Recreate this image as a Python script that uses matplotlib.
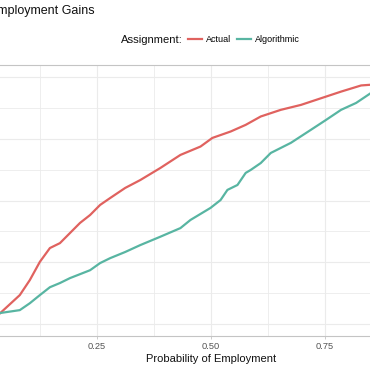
import matplotlib
matplotlib.use("Agg")
import matplotlib.pyplot as plt
from matplotlib.ticker import MultipleLocator

plt.rcParams["font.family"] = ["Liberation Sans", "DejaVu Sans"]

# Cumulative curves (probability of employment -> share of gains)
actual_x = [0.0, 0.037, 0.081, 0.103, 0.125, 0.147, 0.169, 0.191, 0.213, 0.235,
            0.257, 0.279, 0.312, 0.345, 0.389, 0.433, 0.477, 0.503, 0.543, 0.576,
            0.609, 0.653, 0.697, 0.741, 0.785, 0.829, 0.851, 0.92, 1.0]
actual_y = [0.0, 0.041, 0.116, 0.177, 0.251, 0.307, 0.327, 0.368, 0.409, 0.441,
            0.482, 0.510, 0.551, 0.583, 0.632, 0.685, 0.719, 0.754, 0.780, 0.807,
            0.841, 0.868, 0.888, 0.915, 0.942, 0.967, 0.970, 0.99, 1.0]

algo_x = [0.0, 0.037, 0.081, 0.103, 0.125, 0.147, 0.169, 0.191, 0.213, 0.235,
          0.257, 0.279, 0.312, 0.345, 0.389, 0.433, 0.455, 0.499, 0.521, 0.536,
          0.558, 0.576, 0.587, 0.609, 0.631, 0.675, 0.719, 0.752, 0.785, 0.818,
          0.851, 0.92, 1.0]
algo_y = [0.0, 0.043, 0.055, 0.083, 0.116, 0.148, 0.165, 0.185, 0.201, 0.217,
          0.246, 0.266, 0.291, 0.319, 0.353, 0.388, 0.421, 0.470, 0.502, 0.543,
          0.563, 0.612, 0.624, 0.652, 0.693, 0.734, 0.787, 0.827, 0.868, 0.896,
          0.937, 0.975, 1.0]

# 0.00 / 1.00 and the y labels sit outside the cropped view, so they stay blank
x_ticks = [0.0, 0.25, 0.50, 0.75, 1.0]
x_tick_labels = ["", "0.25", "0.50", "0.75", ""]
y_ticks = [0.0, 0.25, 0.50, 0.75, 1.0]

COLOR_ACTUAL = "#E0625F"
COLOR_ALGO = "#58B5A2"
GRID = "#EBEBEB"

fig = plt.figure(figsize=(3.7, 3.7), dpi=100)
# The reference is a crop: the panel runs past both side edges.
ax = fig.add_axes([-40 / 370, 1 - 336 / 370, 502 / 370, 271 / 370])

ax.plot(actual_x, actual_y, color=COLOR_ACTUAL, linewidth=1.6, label="Actual")
ax.plot(algo_x, algo_y, color=COLOR_ALGO, linewidth=1.6, label="Algorithmic")

ax.set_xlim(-0.05, 1.05)
ax.set_ylim(-0.05, 1.05)
ax.set_xticks(x_ticks)
ax.set_xticklabels(x_tick_labels)
ax.set_yticks(y_ticks)
ax.set_yticklabels([])
ax.xaxis.set_minor_locator(MultipleLocator(0.125))
ax.yaxis.set_minor_locator(MultipleLocator(0.125))
ax.grid(which="major", color=GRID, linewidth=0.8)
ax.grid(which="minor", color=GRID, linewidth=0.6)
ax.set_axisbelow(True)

for side in ("left", "right"):
    ax.spines[side].set_visible(False)
for side in ("top", "bottom"):
    ax.spines[side].set_color("#C4C4C4")
    ax.spines[side].set_linewidth(0.8)

ax.tick_params(axis="x", which="major", length=2.5, width=0.6, color="#C4C4C4",
               labelsize=6.7, labelcolor="#555555", pad=2)
ax.tick_params(axis="y", which="major", length=0)
ax.tick_params(which="minor", length=0)
ax.set_xlabel("Probability of Employment", fontsize=8, color="#111111", labelpad=2)

fig.text(95 / 370, 1 - 11 / 370, "Cumulative Employment Gains", ha="right",
         va="center", fontsize=9, color="#111111")

fig.text(121 / 370, 1 - 40 / 370, "Assignment:", ha="left", va="center",
         fontsize=8.1, color="#111111")
fig.legend(loc="center left", bbox_to_anchor=(188 / 370, 1 - 40 / 370), ncol=2,
           frameon=False, fontsize=6.5, handlelength=1.55, handletextpad=0.45,
           columnspacing=0.6, borderpad=0, borderaxespad=0)

fig.savefig("out.png", dpi=100)
